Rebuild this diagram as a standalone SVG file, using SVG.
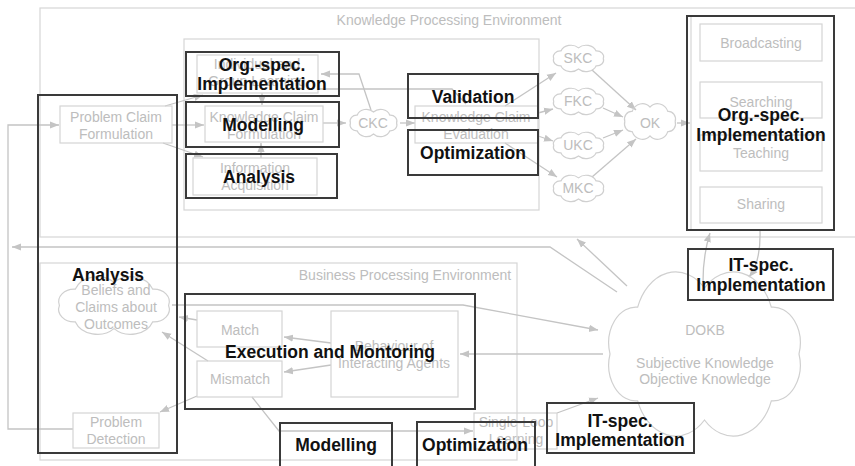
<svg xmlns="http://www.w3.org/2000/svg" xmlns:xlink="http://www.w3.org/1999/xlink" width="855" height="466" viewBox="0 0 855 466">
<defs>
<style>
.env{fill:none;stroke:#d6d6d6;stroke-width:1.2}
.gb{fill:none;stroke:#d4d4d4;stroke-width:1.2}
.cl{fill:none;stroke:#d0d0d0;stroke-width:1.2;vector-effect:non-scaling-stroke}
.g{font-family:"Liberation Sans",Arial,sans-serif;font-size:14px;fill:#bdbdbd;text-anchor:middle}
.bb{fill:none;stroke:#3a3a3a;stroke-width:2}
.b{font-family:"Liberation Sans",Arial,sans-serif;font-size:17.5px;font-weight:bold;fill:#111;text-anchor:middle}
.c{fill:none;stroke:#c4c4c4;stroke-width:1.3}
.ca{fill:none;stroke:#c4c4c4;stroke-width:1.3;marker-end:url(#ah)}
</style>
<marker id="ah" viewBox="0 0 10 10" refX="10" refY="5" markerWidth="9" markerHeight="9" markerUnits="userSpaceOnUse" orient="auto">
<path d="M0,1 L10,5 L0,9 Z" fill="#c4c4c4"/>
</marker>
<path id="cloud" class="cl" d="M8,30 A12,12 0 0 1 20.3,14.4 A18,18 0 0 1 50,8 A18,18 0 0 1 79.7,14.4 A12,12 0 0 1 92,30 A12,12 0 0 1 79.7,45.6 A18,18 0 0 1 50,52 A18,18 0 0 1 20.3,45.6 A12,12 0 0 1 8,30 Z"/>
</defs>
<rect width="855" height="466" fill="#fff"/>

<g id="environments">
<rect class="env" x="40" y="8" width="840" height="229"/>
<text class="g" x="449" y="25">Knowledge Processing Environment</text>
<rect class="env" x="184" y="39" width="355" height="171"/>
<rect class="env" x="691" y="16" width="143" height="214"/>
<rect class="env" x="40" y="263" width="477" height="197"/>
<text class="g" x="405" y="280">Business Processing Environment</text>
</g>

<g id="connectors">
<path class="ca" d="M73,429 H8 V125 H59"/>
<path class="ca" d="M165,106 L203,95"/>
<path class="ca" d="M172,125 H204"/>
<path class="ca" d="M163,143 L203,157"/>
<path class="ca" d="M262,93 V105"/>
<path class="ca" d="M261,158 V143"/>
<path class="ca" d="M323,123 H346"/>
<path class="ca" d="M400,123 H415"/>
<path class="ca" d="M371,110 L359,74 H321"/>
<path class="c" d="M318,89 H452 L466,104"/>
<path class="ca" d="M505,106 L556,73"/>
<path class="ca" d="M538,113 L553,109"/>
<path class="ca" d="M538,136 L553,141"/>
<path class="ca" d="M505,143 L557,177"/>
<path class="ca" d="M592,70 L636,110"/>
<path class="ca" d="M603,108 L623,117"/>
<path class="ca" d="M603,138 L623,130"/>
<path class="ca" d="M592,177 L636,139"/>
<path class="ca" d="M677,123 H690"/>
<path class="ca" d="M617,292 L550,247 H12"/>
<path class="ca" d="M627,286 L577,239"/>
<path class="ca" d="M172,305 H463 L598,330"/>
<path class="ca" d="M603,354 H460"/>
<path class="ca" d="M331,343 L284,337"/>
<path class="ca" d="M331,365 L284,372"/>
<path class="ca" d="M197,320 L179,317"/>
<path class="ca" d="M208,361 L162,332"/>
<path class="ca" d="M197,396 L160,412"/>
<path class="ca" d="M252,397 L279,431 H473"/>
<path class="ca" d="M557,413 L598,398"/>
<path class="ca" d="M703,282 Q703,255 710,233"/>
<path class="ca" d="M760,230 Q761,262 749,277"/>
</g>

<g id="pcf"><rect class="gb" x="60" y="106" width="112" height="37"/><text class="g" x="116" y="122">Problem Claim</text><text class="g" x="116" y="139">Formulation</text></g>
<g id="igl"><rect class="gb" x="197" y="55" width="121" height="38"/><text class="g" x="257" y="69">Individual and</text><text class="g" x="257" y="86">Group Learning</text></g>
<g id="kcf"><rect class="gb" x="205" y="106" width="118" height="36"/><text class="g" x="264" y="122">Knowledge Claim</text><text class="g" x="264" y="139">Formulation</text></g>
<g id="ia"><rect class="gb" x="193" y="158" width="124" height="37"/><text class="g" x="255" y="173">Information</text><text class="g" x="255" y="190">Acquisition</text></g>
<g id="kce"><rect class="gb" x="415" y="106" width="123" height="37"/><text class="g" x="476" y="122">Knowledge Claim</text><text class="g" x="476" y="139">Evaluation</text></g>
<g id="ckc"><use xlink:href="#cloud" transform="translate(346,108) scale(0.55,0.5)"/><text class="g" x="373" y="128">CKC</text></g>
<g id="skc"><use xlink:href="#cloud" transform="translate(549,44) scale(0.59,0.48)"/><text class="g" x="578" y="63">SKC</text></g>
<g id="fkc"><use xlink:href="#cloud" transform="translate(549,87) scale(0.59,0.48)"/><text class="g" x="578" y="106">FKC</text></g>
<g id="ukc"><use xlink:href="#cloud" transform="translate(549,131) scale(0.59,0.48)"/><text class="g" x="578" y="150">UKC</text></g>
<g id="mkc"><use xlink:href="#cloud" transform="translate(549,174) scale(0.59,0.48)"/><text class="g" x="578" y="193">MKC</text></g>
<g id="ok"><use xlink:href="#cloud" transform="translate(620,102) scale(0.6,0.65)"/><text class="g" x="650" y="128">OK</text></g>
<g id="broadcasting"><rect class="gb" x="700" y="24" width="122" height="37"/><text class="g" x="761" y="48">Broadcasting</text></g>
<g id="searching"><rect class="gb" x="700" y="82" width="122" height="36"/><text class="g" x="761" y="107">Searching</text></g>
<g id="teaching"><rect class="gb" x="700" y="135" width="122" height="36"/><text class="g" x="761" y="158">Teaching</text></g>
<g id="sharing"><rect class="gb" x="700" y="187" width="122" height="36"/><text class="g" x="761" y="209">Sharing</text></g>
<g id="beliefs"><use xlink:href="#cloud" transform="translate(49,274) scale(1.3,1.05)"/><text class="g" x="116" y="295">Beliefs and</text><text class="g" x="116" y="312">Claims about</text><text class="g" x="116" y="329">Outcomes</text></g>
<g id="match"><rect class="gb" x="197" y="311" width="85" height="36"/><text class="g" x="240" y="335">Match</text></g>
<g id="mismatch"><rect class="gb" x="197" y="361" width="85" height="36"/><text class="g" x="240" y="384">Mismatch</text></g>
<g id="behaviour"><rect class="gb" x="331" y="311" width="127" height="86"/><text class="g" x="394" y="351">Behaviour of</text><text class="g" x="394" y="368">Interacting Agents</text></g>
<g id="pd"><rect class="gb" x="73" y="413" width="86" height="35"/><text class="g" x="116" y="427">Problem</text><text class="g" x="116" y="444">Detection</text></g>
<g id="sll"><rect class="gb" x="474" y="413" width="83" height="36"/><text class="g" x="516" y="427">Single-Loop</text><text class="g" x="516" y="444">Learning</text></g>
<g id="dokb"><use xlink:href="#cloud" transform="translate(592,264) scale(2.25,3.0)"/><text class="g" x="705" y="335">DOKB</text><text class="g" x="705" y="368">Subjective Knowledge</text><text class="g" x="705" y="384">Objective Knowledge</text></g>

<g id="ov-org1"><rect class="bb" x="186" y="52" width="153" height="44"/><text class="b" x="262" y="71">Org.-spec.</text><text class="b" x="262" y="90">Implementation</text></g>
<g id="ov-model1"><rect class="bb" x="186" y="102" width="153" height="45"/><text class="b" x="263" y="131">Modelling</text></g>
<g id="ov-analysis1"><rect class="bb" x="186" y="154" width="151" height="44"/><text class="b" x="259" y="183">Analysis</text></g>
<g id="ov-validation"><rect class="bb" x="408" y="74" width="130" height="44"/><text class="b" x="473" y="103">Validation</text></g>
<g id="ov-opt1"><rect class="bb" x="408" y="130" width="130" height="45"/><text class="b" x="473" y="159">Optimization</text></g>
<g id="ov-org2"><rect class="bb" x="687" y="16" width="147" height="214"/><text class="b" x="761" y="121">Org.-spec.</text><text class="b" x="761" y="141">Implementation</text></g>
<g id="ov-it1"><rect class="bb" x="688" y="249" width="145" height="51"/><text class="b" x="761" y="271">IT-spec.</text><text class="b" x="761" y="291">Implementation</text></g>
<g id="ov-analysis2"><rect class="bb" x="38" y="95" width="139" height="358"/><text class="b" x="108" y="281">Analysis</text></g>
<g id="ov-exec"><rect class="bb" x="185" y="294" width="290" height="115"/><text class="b" x="330" y="358">Execution and Montoring</text></g>
<g id="ov-model2"><rect class="bb" x="280" y="423" width="112" height="50"/><text class="b" x="336" y="451">Modelling</text></g>
<g id="ov-opt2"><rect class="bb" x="417" y="422" width="118" height="50"/><text class="b" x="475" y="451">Optimization</text></g>
<g id="ov-it2"><rect class="bb" x="547" y="403" width="147" height="50"/><text class="b" x="620" y="427">IT-spec.</text><text class="b" x="620" y="446">Implementation</text></g>
</svg>
